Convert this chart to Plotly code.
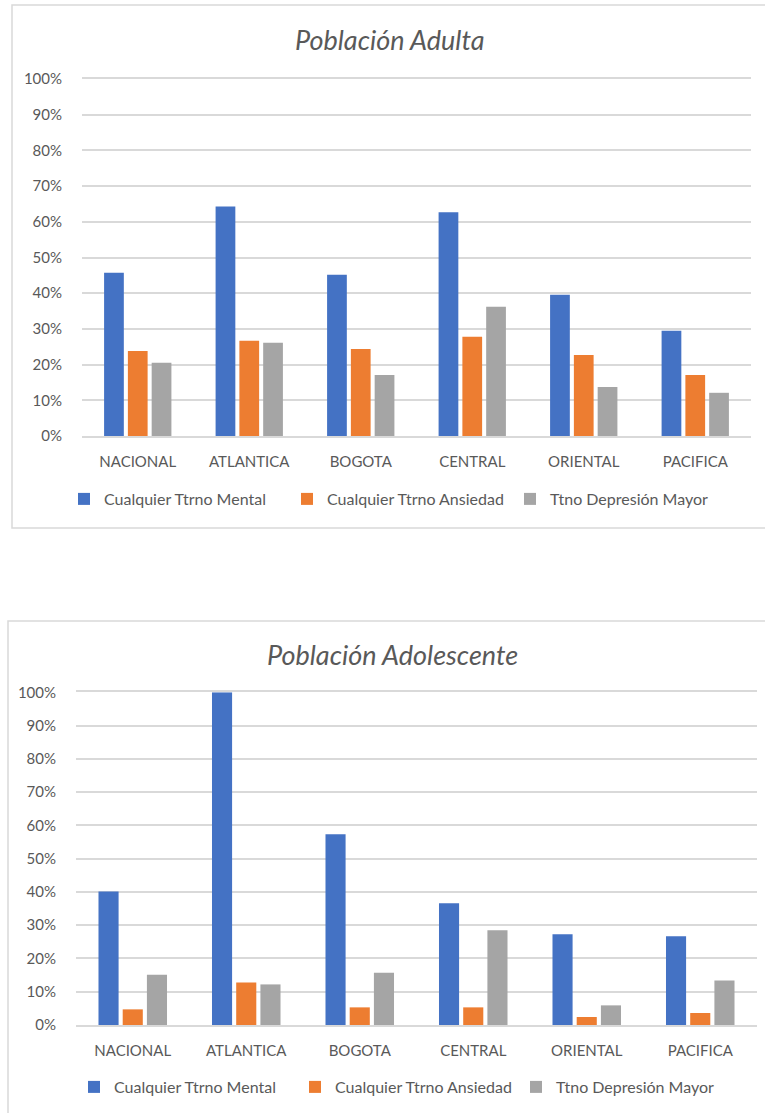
import plotly.graph_objects as go

# Regions and prevalence values (percent)
categories = ["NACIONAL", "ATLANTICA", "BOGOTA", "CENTRAL", "ORIENTAL", "PACIFICA"]
series_names = ["Cualquier Ttrno Mental", "Cualquier Ttrno Ansiedad", "Ttno Depresión Mayor"]

adulta_mental = [45.7, 64.3, 45.2, 62.7, 39.6, 29.5]
adulta_ansiedad = [23.8, 26.7, 24.4, 27.8, 22.7, 17.1]
adulta_depresion = [20.5, 26.1, 17.1, 36.2, 13.7, 12.1]

adol_mental = [40.1, 100.0, 57.3, 36.6, 27.3, 26.7]
adol_ansiedad = [4.7, 12.8, 5.3, 5.3, 2.4, 3.6]
adol_depresion = [15.1, 12.2, 15.7, 28.5, 5.9, 13.4]

y_tick_values = [0, 10, 20, 30, 40, 50, 60, 70, 80, 90, 100]
y_tick_labels = ["0%", "10%", "20%", "30%", "40%", "50%", "60%", "70%", "80%", "90%", "100%"]
colors = ["#4472C4", "#ED7D31", "#A5A5A5"]

W, H = 765, 1113
FONT = "Lato"
TEXT = "#595959"
GRID = "#D9D9D9"


def px_x(v):
    return v / W


def px_y(v):
    return 1 - v / H


fig = go.Figure()

panels = [
    ("x", "y", "legend", [adulta_mental, adulta_ansiedad, adulta_depresion]),
    ("x2", "y2", "legend2", [adol_mental, adol_ansiedad, adol_depresion]),
]
for xa, ya, lg, values in panels:
    for name, vals, col in zip(series_names, values, colors):
        fig.add_trace(go.Bar(
            x=categories, y=vals, name=name, marker_color=col,
            marker_line_width=0, xaxis=xa, yaxis=ya, legend=lg,
        ))

# x axis line mirrored to the top doubles as the 0% and 100% rules
axis_common_x = dict(
    showgrid=False, zeroline=False,
    showline=True, linecolor=GRID, linewidth=1.5, mirror=True,
    tickfont=dict(family=FONT, size=15, color=TEXT),
    ticks="outside", ticklen=0, tickcolor="rgba(0,0,0,0)",
    ticklabelstandoff=11, fixedrange=True, automargin=False,
)
axis_common_y = dict(
    range=[0, 100], tickvals=y_tick_values, ticktext=y_tick_labels,
    showgrid=True, gridcolor=GRID, gridwidth=1.5,
    zeroline=False, showline=False,
    tickfont=dict(family=FONT, size=15, color=TEXT),
    ticks="outside", ticklen=0, tickcolor="rgba(0,0,0,0)",
    ticklabelstandoff=16, fixedrange=True, automargin=False,
)

legend_font = dict(family=FONT, size=16, color=TEXT)

fig.update_layout(
    width=W, height=H,
    margin=dict(l=0, r=0, t=0, b=0, pad=0, autoexpand=False),
    paper_bgcolor="white", plot_bgcolor="white",
    barmode="group", bargap=0.36, bargroupgap=0.17,
    font=dict(family=FONT, color=TEXT),
    xaxis=dict(domain=[px_x(82), px_x(751)], anchor="y", **axis_common_x),
    yaxis=dict(domain=[px_y(436), px_y(79)], anchor="x", **axis_common_y),
    xaxis2=dict(domain=[px_x(76), px_x(757)], anchor="y2", **axis_common_x),
    yaxis2=dict(domain=[px_y(1025), px_y(692.3)], anchor="x2", **axis_common_y),
    legend=dict(
        orientation="h", x=px_x(64), y=px_y(499), xanchor="left", yanchor="middle",
        font=legend_font, itemclick=False, bgcolor="rgba(0,0,0,0)",
        entrywidth=178, entrywidthmode="pixels",
    ),
    legend2=dict(
        orientation="h", x=px_x(74), y=px_y(1087), xanchor="left", yanchor="middle",
        font=legend_font, itemclick=False, bgcolor="rgba(0,0,0,0)",
        entrywidth=176, entrywidthmode="pixels",
    ),
    annotations=[
        dict(text="<i>Población Adulta</i>", x=px_x(390), y=px_y(39),
             xref="paper", yref="paper", xanchor="center", yanchor="middle",
             showarrow=False, font=dict(family=FONT, size=27, color=TEXT)),
        dict(text="<i>Población Adolescente</i>", x=px_x(393), y=px_y(654),
             xref="paper", yref="paper", xanchor="center", yanchor="middle",
             showarrow=False, font=dict(family=FONT, size=27, color=TEXT)),
    ],
    shapes=[
        dict(type="rect", xref="paper", yref="paper",
             x0=px_x(12), x1=px_x(780), y0=px_y(528), y1=px_y(5),
             line=dict(color=GRID, width=1.5), layer="below"),
        dict(type="rect", xref="paper", yref="paper",
             x0=px_x(8), x1=px_x(780), y0=px_y(1130), y1=px_y(621),
             line=dict(color=GRID, width=1.5), layer="below"),
    ],
)

fig.write_html("out.html")
